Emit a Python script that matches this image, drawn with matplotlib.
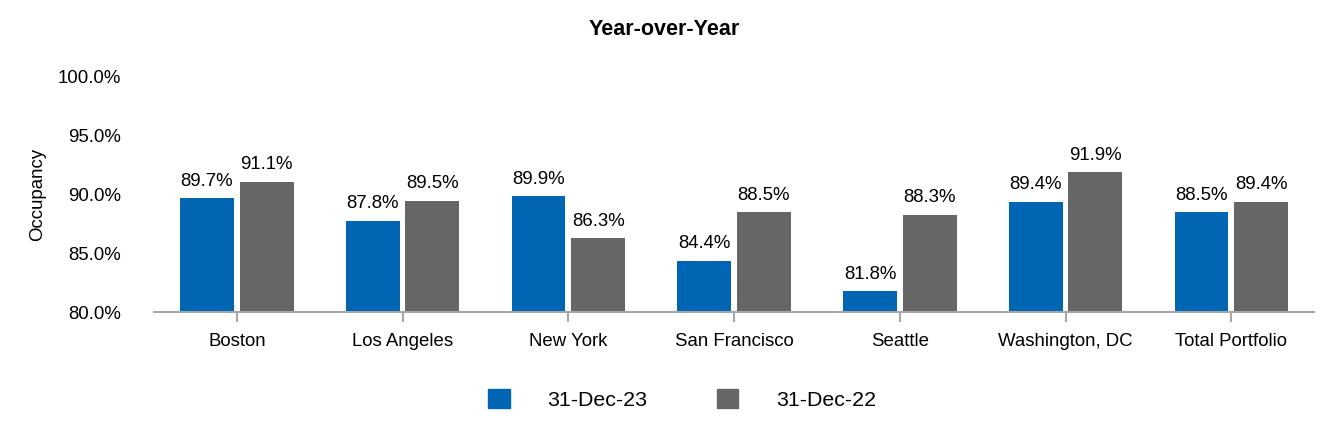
import matplotlib
matplotlib.use("Agg")
from matplotlib import pyplot as plt
from matplotlib.patches import Patch
import numpy as np

cities = ["Boston", "Los Angeles", "New York", "San Francisco", "Seattle", "Washington, DC", "Total Portfolio"]
occ_2023 = [89.7, 87.8, 89.9, 84.4, 81.8, 89.4, 88.5]
occ_2022 = [91.1, 89.5, 86.3, 88.5, 88.3, 91.9, 89.4]
labels = ["31-Dec-23", "31-Dec-22"]

blue = "#0066b3"
gray = "#666666"

plt.rcParams["font.family"] = ["Liberation Sans", "DejaVu Sans"]

fig = plt.figure(figsize=(13.32, 4.4), dpi=100)
ax = fig.add_axes([0.1156, 0.29, 0.871, 0.535])

x = np.arange(len(cities))
w = 0.325
b1 = ax.bar(x - 0.18, occ_2023, w, color=blue)
b2 = ax.bar(x + 0.18, occ_2022, w, color=gray)

for bars, vals in ((b1, occ_2023), (b2, occ_2022)):
    for bar, v in zip(bars, vals):
        ax.annotate(f"{v:.1f}%", (bar.get_x() + bar.get_width() / 2, v),
                    xytext=(0, 6), textcoords="offset points",
                    ha="center", va="bottom", fontsize=13.4)

ax.set_ylim(80, 100)
ax.set_xlim(-0.5, len(cities) - 0.5)
ax.set_yticks([80, 85, 90, 95, 100])
ax.set_yticklabels([f"{t:.1f}%" for t in [80, 85, 90, 95, 100]])
ax.set_xticks(x)
ax.set_xticklabels(cities)
ax.tick_params(axis="y", length=0, labelsize=13.4, pad=24)
ax.tick_params(axis="x", length=7, color="#a6a6a6", width=1.5, labelsize=13.4, pad=8)
for s in ["top", "right", "left"]:
    ax.spines[s].set_visible(False)
ax.spines["bottom"].set_color("#a6a6a6")
ax.spines["bottom"].set_linewidth(1.5)
ax.set_ylabel("Occupancy", fontsize=13.4, labelpad=8)

fig.text(0.499, 0.934, "Year-over-Year", ha="center", va="center",
         fontsize=15.5, fontweight="bold")

handles = [Patch(color=blue), Patch(color=gray)]
fig.legend(handles, labels, loc="center", bbox_to_anchor=(0.512, 0.093), ncol=2,
           frameon=False, fontsize=15.4, handlelength=1.0, handleheight=1.0,
           handletextpad=1.75, columnspacing=3.27)

fig.savefig("out.png", dpi=100)
